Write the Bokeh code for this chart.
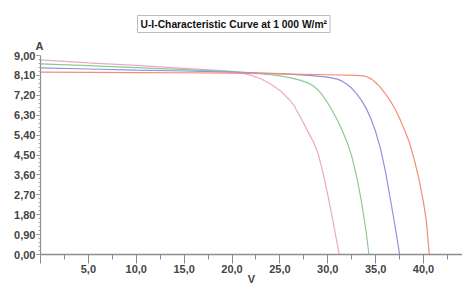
from bokeh.plotting import figure
from bokeh.models import Range1d, FixedTicker, CustomJSTickFormatter, Title
from bokeh.embed import file_html
from bokeh.resources import INLINE

# ---- data ----
v_pink = [0, 5, 10, 15, 18, 20, 21, 22, 23, 24, 25, 26, 26.5, 27, 27.5, 28, 28.5, 29, 29.5, 30, 30.5, 31.2]
i_pink = [8.80, 8.67, 8.55, 8.42, 8.34, 8.28, 8.21, 8.10, 7.95, 7.72, 7.42, 7.00, 6.72, 6.32, 5.92, 5.50, 5.10, 4.55, 3.70, 2.70, 1.60, 0.0]

v_green = [0, 5, 10, 15, 20, 22, 24, 25, 26, 27, 28, 28.5, 29, 29.5, 30, 30.5, 31, 31.5, 32, 32.5, 33, 33.5, 34, 34.3]
i_green = [8.62, 8.54, 8.45, 8.36, 8.27, 8.22, 8.13, 8.08, 8.00, 7.90, 7.75, 7.62, 7.43, 7.17, 6.85, 6.48, 6.08, 5.62, 5.10, 4.45, 3.55, 2.45, 1.05, 0.0]

v_blue = [0, 5, 10, 15, 20, 25, 28, 30, 31, 31.5, 32, 32.5, 33, 33.5, 34, 34.5, 35, 35.5, 36, 36.5, 37, 37.5]
i_blue = [8.44, 8.39, 8.34, 8.30, 8.25, 8.18, 8.10, 8.02, 7.93, 7.84, 7.70, 7.52, 7.28, 6.98, 6.62, 6.15, 5.55, 4.80, 3.80, 2.60, 1.35, 0.0]

v_red = [0, 5, 10, 15, 20, 25, 30, 33, 33.7, 34.1, 34.6, 35, 35.5, 36, 36.5, 37, 37.5, 38, 38.5, 39, 39.5, 40, 40.3, 40.6]
i_red = [8.25, 8.24, 8.23, 8.22, 8.20, 8.17, 8.13, 8.10, 8.08, 8.04, 7.92, 7.78, 7.56, 7.28, 6.97, 6.60, 6.15, 5.65, 5.10, 4.35, 3.45, 2.35, 1.50, 0.0]

x_major = [0, 5, 10, 15, 20, 25, 30, 35, 40]
x_minor = [2.5, 7.5, 12.5, 17.5, 22.5, 27.5, 32.5, 37.5, 42.5]
y_major = [0, 0.9, 1.8, 2.7, 3.6, 4.5, 5.4, 6.3, 7.2, 8.1, 9.0]
y_minor = [round(k * 0.18, 2) for k in range(51)]

title_text = "U-I-Characteristic Curve at 1 000 W/m²"
x_unit = "V"
y_unit = "A"

FONT = "Liberation Sans"
AXIS_GRAY = "#8c8c8c"
TEXT_GRAY = "#444444"

p = figure(width=462, height=287, output_backend="svg", toolbar_location=None,
           x_range=Range1d(0, 44.07), y_range=Range1d(0, 9.0),
           min_border_left=40, min_border_right=0, min_border_top=55, min_border_bottom=29)
p.title = None
p.outline_line_color = None
p.xgrid.visible = False
p.ygrid.visible = False
p.background_fill_color = "white"
p.border_fill_color = "white"

series = [
    (v_pink, i_pink, "#eda7cf"),
    (v_green, i_green, "#8ccc90"),
    (v_blue, i_blue, "#8f93dd"),
    (v_red, i_red, "#f58d76"),
]
for vv, ii, c in series:
    p.line(vv, ii, line_color=c, line_width=1.2)

xa = p.xaxis[0]
xa.ticker = FixedTicker(ticks=x_major, minor_ticks=x_minor)
xa.formatter = CustomJSTickFormatter(code="return tick == 0 ? '' : tick.toFixed(1).replace('.', ',');")
xa.axis_line_color = AXIS_GRAY
xa.axis_line_width = 1.5
xa.major_tick_line_color = AXIS_GRAY
xa.minor_tick_line_color = AXIS_GRAY
xa.major_tick_in = 0
xa.minor_tick_in = 0
xa.major_tick_out = 9
xa.minor_tick_out = 5
xa.major_label_standoff = 1
xa.major_label_text_font = FONT
xa.major_label_text_font_size = "11px"
xa.major_label_text_font_style = "bold"
xa.major_label_text_color = TEXT_GRAY
xa.major_label_text_line_height = 0.9
xa.axis_label = x_unit
xa.axis_label_standoff = -3
xa.axis_label_text_font = FONT
xa.axis_label_text_font_size = "11px"
xa.axis_label_text_font_style = "bold"
xa.axis_label_text_color = TEXT_GRAY
xa.axis_label_text_line_height = 0.9

ya = p.yaxis[0]
ya.ticker = FixedTicker(ticks=y_major, minor_ticks=y_minor)
ya.formatter = CustomJSTickFormatter(code="return tick.toFixed(2).replace('.', ',');")
ya.axis_line_color = AXIS_GRAY
ya.axis_line_width = 1.2
ya.major_tick_line_color = AXIS_GRAY
ya.minor_tick_line_color = "#aaaaaa"
ya.major_tick_in = 0
ya.minor_tick_in = 0
ya.major_tick_out = 4
ya.minor_tick_out = 2
ya.major_label_standoff = 1
ya.major_label_text_font = FONT
ya.major_label_text_font_size = "11px"
ya.major_label_text_font_style = "bold"
ya.major_label_text_color = TEXT_GRAY

a_title = Title(text=y_unit, align="left", offset=-5, text_font=FONT, text_font_size="11px",
                text_font_style="bold", text_color=TEXT_GRAY, standoff=7)
p.add_layout(a_title, "above")

main_title = Title(text=title_text, align="left", offset=97, text_font=FONT, text_font_size="10.3px",
                   text_font_style="bold", text_color="#111111",
                   border_line_color="#bbbbbb", border_line_width=1, background_fill_color="white",
                   padding=3, standoff=4)
p.add_layout(main_title, "above")

open("out.html", "w").write(file_html(p, INLINE))
